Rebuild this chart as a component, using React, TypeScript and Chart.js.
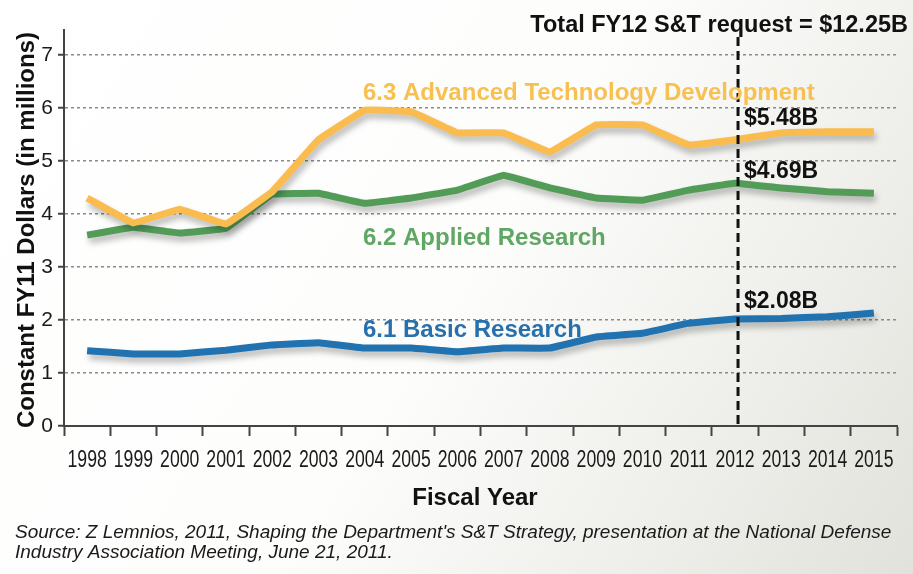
import React, { useEffect, useRef } from 'react';
import { Chart, registerables } from 'chart.js';

Chart.register(...registerables);

const years = ['1998', '1999', '2000', '2001', '2002', '2003', '2004', '2005', '2006', '2007', '2008', '2009', '2010', '2011', '2012', '2013', '2014', '2015'];
const advancedTech = [4.3, 3.83, 4.09, 3.81, 4.42, 5.4, 5.96, 5.93, 5.53, 5.53, 5.17, 5.68, 5.68, 5.3, 5.4, 5.53, 5.55, 5.55];
const appliedResearch = [3.6, 3.75, 3.64, 3.73, 4.37, 4.39, 4.2, 4.3, 4.45, 4.73, 4.49, 4.3, 4.26, 4.45, 4.58, 4.49, 4.42, 4.39];
const basicResearch = [1.42, 1.36, 1.36, 1.43, 1.53, 1.57, 1.47, 1.47, 1.4, 1.47, 1.47, 1.68, 1.75, 1.94, 2.02, 2.03, 2.06, 2.13];
const yTickValues = [0, 1, 2, 3, 4, 5, 6, 7];
const seriesNames = ['6.3 Advanced Technology Development', '6.2 Applied Research', '6.1 Basic Research'];
const requestYear = '2012';
const requestLabels = ['$5.48B', '$4.69B', '$2.08B'];
const totalLabel = 'Total FY12 S&T request = $12.25B';
const yTitle = 'Constant FY11 Dollars (in millions)';
const xTitle = 'Fiscal Year';
const sourceLines = [
  "Source: Z Lemnios, 2011, Shaping the Department's S&T Strategy, presentation at the National Defense",
  'Industry Association Meeting, June 21, 2011.',
];

const SANS = "'Liberation Sans', Arial, Helvetica, sans-serif";

const ORANGE = 'rgb(250, 188, 78)';
const GREEN = 'rgb(82, 156, 88)';
const BLUE = 'rgb(32, 114, 176)';

function drawText(ctx: CanvasRenderingContext2D, text: string, x: number, y: number, font: string, color: string, align: CanvasTextAlign = 'left', scaleX = 1) {
  ctx.save();
  ctx.font = font;
  ctx.fillStyle = color;
  ctx.textAlign = align;
  ctx.textBaseline = 'alphabetic';
  ctx.translate(x, y);
  ctx.scale(scaleX, 1);
  ctx.fillText(text, 0, 0);
  ctx.restore();
}

const decorPlugin = {
  id: 'decor',
  beforeDraw(chart: any) {
    const { ctx, width, height } = chart;
    ctx.save();
    const g = ctx.createLinearGradient(0, 0, width, height);
    g.addColorStop(0, '#ffffff');
    g.addColorStop(0.5, '#fdfdfc');
    g.addColorStop(1, '#e2e2dc');
    ctx.fillStyle = g;
    ctx.fillRect(0, 0, width, height);
    ctx.restore();
  },
  beforeDatasetDraw(chart: any) {
    const ctx = chart.ctx;
    ctx.save();
    ctx.shadowColor = 'rgba(0,0,0,0.28)';
    ctx.shadowBlur = 6;
    ctx.shadowOffsetX = 2;
    ctx.shadowOffsetY = 5;
  },
  afterDatasetDraw(chart: any) {
    chart.ctx.restore();
  },
  afterDatasetsDraw(chart: any) {
    const { ctx, chartArea } = chart;
    const xs = chart.scales.x;

    // x tick labels (condensed), placed at the category scale's tick pixels
    years.forEach((yr, i) => {
      drawText(ctx, yr, xs.getPixelForTick(i), 467, `23.5px ${SANS}`, '#1a1a1a', 'center', 0.75);
    });

    const xr = xs.getPixelForValue(years.indexOf(requestYear)) + 3;
    ctx.save();
    ctx.strokeStyle = '#111';
    ctx.lineWidth = 3;
    ctx.setLineDash([9, 5]);
    ctx.beginPath();
    ctx.moveTo(xr, 37);
    ctx.lineTo(xr, chartArea.bottom);
    ctx.stroke();
    ctx.restore();

    const valFont = `bold 23px ${SANS}`;
    drawText(ctx, totalLabel, 908, 32, `bold 23.5px ${SANS}`, '#111', 'right');
    drawText(ctx, requestLabels[0], xr + 6, 125, valFont, '#111');
    drawText(ctx, requestLabels[1], xr + 6, 178, valFont, '#111');
    drawText(ctx, requestLabels[2], xr + 6, 308, valFont, '#111');

    const labelFont = `bold 24px ${SANS}`;
    drawText(ctx, seriesNames[0], 363, 100, labelFont, 'rgb(248, 192, 80)');
    drawText(ctx, seriesNames[1], 363, 245, labelFont, 'rgb(96, 166, 100)');
    drawText(ctx, seriesNames[2], 363, 337, labelFont, 'rgb(40, 112, 172)');

    drawText(ctx, xTitle, 475, 505, `bold 24px ${SANS}`, '#111', 'center');

    ctx.save();
    ctx.translate(34, 230);
    ctx.rotate(-Math.PI / 2);
    drawText(ctx, yTitle, 0, 0, `bold 24px ${SANS}`, '#111', 'center');
    ctx.restore();

    const srcFont = `italic 19px ${SANS}`;
    drawText(ctx, sourceLines[0], 15, 538, srcFont, '#1a1a1a');
    drawText(ctx, sourceLines[1], 15, 558, srcFont, '#1a1a1a');
  },
};

export default function App() {
  const ref = useRef<HTMLCanvasElement | null>(null);
  useEffect(() => {
    if (!ref.current) return;
    const chart = new Chart(ref.current, {
      type: 'line',
      data: {
        labels: years,
        datasets: [
          { label: seriesNames[0], data: advancedTech, borderColor: ORANGE, backgroundColor: ORANGE },
          { label: seriesNames[1], data: appliedResearch, borderColor: GREEN, backgroundColor: GREEN },
          { label: seriesNames[2], data: basicResearch, borderColor: BLUE, backgroundColor: BLUE },
        ].map((d) => ({ ...d, borderWidth: 7, pointRadius: 0, tension: 0.05, borderJoinStyle: 'round' as const, borderCapStyle: 'butt' as const, fill: false })),
      },
      options: {
        animation: false,
        responsive: false,
        devicePixelRatio: 1,
        layout: { padding: { top: 30, right: 16, left: 0, bottom: 0 } },
        plugins: { legend: { display: false }, tooltip: { enabled: false } },
        scales: {
          x: {
            type: 'category',
            offset: true,
            afterFit: (s: any) => { s.height = 148; },
            grid: { offset: true, drawOnChartArea: false, drawTicks: true, tickLength: 10, tickColor: '#444', tickWidth: 2, tickBorderDash: [] },
            border: { display: true, color: '#444', width: 2 },
            ticks: { display: false, autoSkip: false, maxRotation: 0 },
          },
          y: {
            type: 'linear',
            min: 0,
            max: 7.47,
            afterFit: (s: any) => { s.width = 64; },
            afterBuildTicks: (s: any) => { s.ticks = yTickValues.map((v) => ({ value: v })); },
            grid: {
              color: (c: any) => (c.tick && c.tick.value === 0 ? 'rgba(0,0,0,0)' : '#8a8a8a'),
              lineWidth: 1.5,
              drawTicks: true,
              tickLength: 6,
              tickColor: '#444',
              tickWidth: 2,
              tickBorderDash: [],
            },
            border: { display: true, color: '#444', width: 2, dash: [3, 3] },
            ticks: { padding: 5, color: '#1a1a1a', font: { family: SANS, size: 21 } },
          },
        },
      },
      plugins: [decorPlugin],
    } as any);
    return () => chart.destroy();
  }, []);
  return (
    <div style={{ position: 'fixed', left: 0, top: 0, width: 913, height: 574 }}>
      <canvas ref={ref} width={913} height={574} style={{ width: 913, height: 574, display: 'block' }} />
    </div>
  );
}
